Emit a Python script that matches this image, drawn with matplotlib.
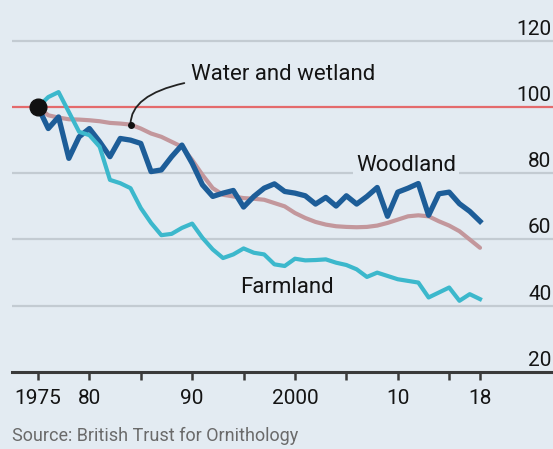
import matplotlib
matplotlib.use("Agg")
import matplotlib.pyplot as plt
import matplotlib.transforms as mtransforms

plt.rcParams['font.family'] = ['Roboto', 'DejaVu Sans']

years = list(range(1975, 2019))

woodland = [100, 93.5, 97, 84.5, 91, 93.5, 89.5, 85, 90.5, 90,
            89, 80.5, 81, 85, 88.5, 83, 76.5, 73, 74, 74.8,
            69.8, 73, 75.5, 76.8, 74.5, 74, 73.2, 70.7, 72.7, 70.1,
            73.2, 70.7, 73, 75.7, 67, 74.3, 75.5, 76.9, 67.3, 73.8,
            74.3, 70.8, 68.5, 65.5]

water = [100, 97.5, 96.8, 96.3, 96.2, 96, 95.7, 95.2, 95, 94.7,
         93.5, 92, 91, 89.5, 88, 84, 79.5, 75.5, 73.5, 73,
         72.5, 72.3, 72, 71, 70, 68, 66.5, 65.3, 64.5, 64,
         63.8, 63.7, 63.8, 64.2, 65, 66, 67, 67.3, 67, 65.5,
         64.2, 62.5, 60, 57.5]

farmland = [100, 103, 104.5, 98.5, 92.5, 91.5, 88, 78, 77, 75.5,
            69.5, 65, 61.3, 61.7, 63.5, 64.8, 60.5, 57, 54.4, 55.5,
            57.3, 56, 55.5, 52.5, 52, 54.2, 53.7, 53.8, 54, 53,
            52.3, 51, 48.7, 50, 49, 48, 47.5, 47, 42.5, 44,
            45.5, 41.5, 43.5, 42]

y_ticks = [20, 40, 60, 80, 100, 120]
y_labels = ["20", "40", "60", "80", "100", "120"]
x_ticks = [1975, 1980, 1985, 1990, 1995, 2000, 2005, 2010, 2015, 2018]
x_labels = {1975: "1975", 1980: "80", 1990: "90", 2000: "2000", 2010: "10", 2018: "18"}

BG = "#e3ebf2"
GRID = "#c3cbd2"
DARK_BLUE = "#1d5d98"
CYAN = "#3cb8cc"
PINK = "#c3979c"
RED = "#e46a6c"
INK = "#141414"

W, H = 553, 449
fig = plt.figure(figsize=(W / 100, H / 100), dpi=100, facecolor=BG)

# axes geometry in pixels
left_px, right_px = 12, 553
bottom_px = 372
ax = fig.add_axes([left_px / W, (H - bottom_px) / H, (right_px - left_px) / W, bottom_px / H])
ax.set_facecolor(BG)

px_per_year = 10.28
x0_px = 38
xmin = 1975 - (x0_px - left_px) / px_per_year
xmax = 2018 + (right_px - 480) / px_per_year
px_per_unit = 3.3125
ymax = 20 + bottom_px / px_per_unit
ax.set_xlim(xmin, xmax)
ax.set_ylim(20, ymax)

for s in ["top", "left", "right"]:
    ax.spines[s].set_visible(False)
ax.spines["bottom"].set_color("#3a3a3a")
ax.spines["bottom"].set_linewidth(2.2)

ax.set_yticks([])
ax.set_xticks(x_ticks)
ax.set_xticklabels([x_labels.get(t, "") for t in x_ticks])
ax.tick_params(axis="x", direction="out", length=6, width=1.8, color="#3a3a3a",
               labelsize=15, labelcolor=INK, pad=6)

# horizontal gridlines with value labels sitting above them
label_tr = mtransforms.blended_transform_factory(
    ax.transAxes, mtransforms.offset_copy(ax.transData, fig=fig, x=0, y=2, units="dots"))
for v, lab in zip(y_ticks, y_labels):
    if v == 100:
        ax.axhline(v, color=RED, lw=1.6, zorder=1)
    elif v != 20:
        ax.axhline(v, color=GRID, lw=1.6, zorder=1)
    ax.text(0.997, v, lab, transform=label_tr, ha="right", va="bottom",
            fontsize=15, color=INK)

ax.plot(years, water, color=PINK, lw=3.0, zorder=3, solid_capstyle="round")
ax.plot(years, woodland, color=DARK_BLUE, lw=3.8, zorder=4)
ax.plot(years, farmland, color=CYAN, lw=3.0, zorder=5)

ax.plot([years[0]], [woodland[0]], "o", color="#111111", ms=12, zorder=6)

# label for the water series with curved pointer
pt_year = 1984
pt_val = water[years.index(pt_year)]
ax.annotate("Water and wetland", xy=(pt_year, pt_val), xytext=(1989.9, 109.7),
            fontsize=16, color=INK, ha="left", va="center",
            arrowprops=dict(arrowstyle="-", color="#222222", lw=1.3,
                            connectionstyle="angle3,angleA=0,angleB=90",
                            shrinkA=3, shrinkB=0), zorder=7)
ax.plot([pt_year], [pt_val], "o", color="#111111", ms=4, zorder=7)

ax.text(2010.8, 82.4, "Woodland", fontsize=16, color=INK, ha="center", va="center",
        bbox=dict(facecolor=BG, edgecolor="none", pad=2), zorder=6)
ax.text(1999.2, 45.4, "Farmland", fontsize=16, color=INK, ha="center", va="center",
        zorder=6)

fig.text(12 / W, 1 - 436 / H, "Source: British Trust for Ornithology", fontsize=13,
         color="#6a6a6a", ha="left", va="center")

fig.savefig("out.png", dpi=100, facecolor=BG)
